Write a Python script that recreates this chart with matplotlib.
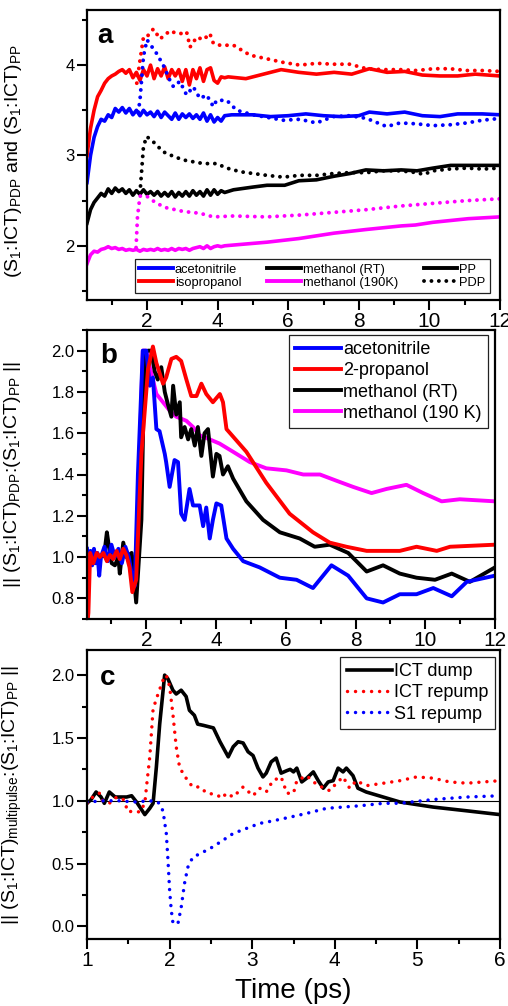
import matplotlib
matplotlib.use("Agg")
import matplotlib.pyplot as plt
from matplotlib.lines import Line2D
from matplotlib.ticker import MultipleLocator

plt.rcParams['font.family'] = ['Liberation Sans', 'DejaVu Sans']
plt.rcParams['mathtext.default'] = 'regular'

BLUE, RED, BLACK, MAG = '#0000ff', '#ff0000', '#000000', '#ff00ff'

# ---------------- panel a : PP (solid) ----------------
a_t_noisy = [0.3, 0.4, 0.5, 0.6, 0.7, 0.8, 0.9, 1.0, 1.1, 1.2, 1.3, 1.4, 1.5, 1.6, 1.7, 1.8, 1.9, 2.0,
             2.1, 2.2, 2.3, 2.4, 2.5, 2.6, 2.7, 2.8, 2.9, 3.0, 3.1, 3.2, 3.3, 3.4, 3.5, 3.6, 3.7, 3.8,
             3.9, 4.0, 4.1, 4.2]
a_acn_pp_t = a_t_noisy + [4.4, 5.0, 5.5, 6.0, 6.5, 7.0, 7.5, 8.0, 8.3, 8.8, 9.3, 9.8, 10.3, 10.8, 11.5, 12.0]
a_acn_pp = [2.70, 3.00, 3.20, 3.32, 3.40, 3.38, 3.45, 3.42, 3.52, 3.48, 3.53, 3.47, 3.52, 3.45, 3.50, 3.44,
            3.50, 3.45, 3.48, 3.43, 3.49, 3.42, 3.48, 3.44, 3.40, 3.47, 3.40, 3.46, 3.42, 3.46, 3.41, 3.45,
            3.40, 3.47, 3.38, 3.45, 3.37, 3.42, 3.38, 3.44,
            3.45, 3.45, 3.43, 3.44, 3.46, 3.44, 3.43, 3.44, 3.48, 3.46, 3.48, 3.44, 3.43, 3.46, 3.46, 3.45]
a_iso_pp_t = a_t_noisy + [4.3, 4.8, 5.3, 5.8, 6.3, 6.8, 7.3, 7.8, 8.3, 8.8, 9.3, 9.8, 10.3, 10.8, 11.3, 12.0]
a_iso_pp = [3.00, 3.30, 3.50, 3.65, 3.72, 3.80, 3.85, 3.88, 3.90, 3.93, 3.95, 3.91, 3.95, 3.86, 3.92, 3.83,
            3.95, 3.88, 4.00, 3.85, 3.96, 3.88, 3.98, 3.85, 3.95, 3.88, 3.95, 3.82, 3.95, 3.78, 3.95, 3.85,
            3.97, 3.82, 3.95, 3.97, 3.83, 3.80, 3.87, 3.86,
            3.87, 3.85, 3.90, 3.95, 3.92, 3.90, 3.92, 3.90, 3.96, 3.92, 3.93, 3.89, 3.88, 3.88, 3.90, 3.88]
a_mrt_pp_t = a_t_noisy + [4.45, 5.0, 5.4, 5.9, 6.3, 6.8, 7.3, 7.75, 8.2, 8.7, 9.2, 9.65, 10.1, 10.6, 11.1, 12.0]
a_mrt_pp = [2.25, 2.40, 2.48, 2.53, 2.58, 2.55, 2.63, 2.58, 2.64, 2.60, 2.63, 2.58, 2.62, 2.56, 2.61, 2.57,
            2.62, 2.57, 2.60, 2.56, 2.60, 2.55, 2.59, 2.55, 2.60, 2.54, 2.59, 2.55, 2.60, 2.55, 2.61, 2.56,
            2.60, 2.55, 2.62, 2.56, 2.62, 2.57, 2.61, 2.59,
            2.62, 2.65, 2.67, 2.67, 2.72, 2.73, 2.77, 2.80, 2.84, 2.83, 2.84, 2.83, 2.86, 2.89, 2.89, 2.89]
a_m190_pp_t = a_t_noisy + [4.5, 5.4, 6.3, 7.3, 8.2, 9.2, 9.6, 10.1, 11.1, 12.0]
a_m190_pp = [1.80, 1.90, 1.94, 1.93, 1.96, 1.97, 1.99, 1.97, 1.98, 1.96, 1.97, 1.95, 1.96, 1.95, 1.96, 1.94,
             1.96, 1.95, 1.96, 1.95, 1.97, 1.95, 1.96, 1.95, 1.97, 1.95, 1.97, 1.96, 1.97, 1.95, 1.97, 1.98,
             1.99, 1.97, 2.00, 1.97, 1.99, 2.00, 1.99, 2.00,
             2.01, 2.04, 2.08, 2.14, 2.18, 2.22, 2.23, 2.26, 2.30, 2.32]

# ---------------- panel a : PDP (dotted) ----------------
a_acn_pdp_t = [1.75, 1.80, 1.90, 2.00, 2.27, 2.46, 2.65, 2.75, 2.93, 3.12, 3.31, 3.50, 3.69, 3.88, 3.97, 4.26,
               4.54, 5.0, 5.86, 6.33, 6.8, 7.28, 7.75, 8.22, 8.79, 9.17, 9.64, 10.1, 10.6, 11.06, 11.5, 12.0]
a_acn_pdp = [3.48, 3.61, 4.10, 4.28, 4.13, 4.00, 3.83, 3.76, 3.82, 3.67, 3.76, 3.63, 3.67, 3.54, 3.61, 3.61,
             3.50, 3.45, 3.39, 3.40, 3.36, 3.43, 3.44, 3.41, 3.32, 3.36, 3.35, 3.33, 3.34, 3.36, 3.39, 3.41]
a_iso_pdp_t = [1.71, 1.80, 1.90, 1.99, 2.18, 2.37, 2.65, 2.84, 2.98, 3.12, 3.22, 3.41, 3.60, 3.78, 3.88, 4.07,
               4.45, 4.92, 5.39, 5.86, 6.33, 6.81, 7.28, 7.75, 8.22, 8.69, 9.17, 9.64, 10.11, 10.58, 11.06,
               11.53, 12.0]
a_iso_pdp = [3.80, 4.05, 4.31, 4.31, 4.40, 4.29, 4.38, 4.35, 4.35, 4.37, 4.20, 4.31, 4.28, 4.35, 4.24, 4.22,
             4.22, 4.11, 4.07, 4.03, 4.00, 4.02, 4.01, 4.01, 3.96, 3.95, 3.95, 3.94, 3.96, 3.96, 3.94, 3.94,
             3.93]
a_mrt_pdp_t = [1.80, 1.90, 1.99, 2.18, 2.46, 2.75, 3.03, 3.31, 3.60, 3.97, 4.26, 4.64, 5.01, 5.39, 5.86, 6.33,
               6.81, 7.28, 7.75, 8.22, 8.69, 9.17, 9.64, 9.83, 10.11, 10.58, 11.06, 11.53, 12.0]
a_mrt_pdp = [2.58, 3.10, 3.21, 3.15, 3.04, 2.99, 2.95, 2.93, 2.91, 2.91, 2.86, 2.82, 2.80, 2.78, 2.76, 2.78,
             2.78, 2.80, 2.81, 2.81, 2.83, 2.83, 2.81, 2.79, 2.83, 2.85, 2.86, 2.85, 2.86]
a_m190_pdp_t = [1.69, 1.73, 1.80, 1.99, 2.27, 2.56, 3.03, 3.50, 3.88, 4.45, 5.39, 6.33, 7.28, 8.22, 9.17,
                10.11, 11.06, 12.0]
a_m190_pdp = [1.98, 2.32, 2.55, 2.55, 2.47, 2.42, 2.38, 2.36, 2.32, 2.33, 2.32, 2.34, 2.37, 2.40, 2.44, 2.47,
              2.50, 2.52]

# ---------------- panel b ----------------
b_acn_t = [0.3, 0.35, 0.4, 0.45, 0.5, 0.55, 0.6, 0.65, 0.7, 0.8, 0.9, 1.0, 1.1, 1.2, 1.3, 1.4, 1.5, 1.6, 1.67,
           1.76, 1.9, 2.0, 2.1, 2.19, 2.29, 2.38, 2.53, 2.57, 2.67, 2.81, 2.91, 3.0, 3.1, 3.24, 3.34, 3.44,
           3.53, 3.63, 3.72, 3.82, 3.91, 4.01, 4.15, 4.3, 4.49, 4.78, 5.25, 5.83, 6.31, 6.78, 7.31, 7.79,
           8.32, 8.79, 9.27, 9.75, 10.23, 10.76, 11.19, 12.0]
b_acn = [1.04, 0.95, 1.03, 0.96, 1.04, 0.97, 1.02, 0.91, 1.00, 1.05, 0.98, 1.06, 1.00, 1.04, 0.97, 1.05,
         1.00, 0.90, 0.86, 1.40, 2.00, 2.00, 1.83, 1.87, 1.62, 1.61, 1.50, 1.46, 1.34, 1.47, 1.46, 1.21,
         1.18, 1.33, 1.25, 1.25, 1.25, 1.15, 1.24, 1.09, 1.18, 1.26, 1.25, 1.09, 1.04, 0.98, 0.95, 0.90,
         0.89, 0.85, 0.96, 0.91, 0.80, 0.78, 0.82, 0.82, 0.85, 0.81, 0.88, 0.91]
b_prop_t = [0.3, 0.34, 0.39, 0.48, 0.58, 0.67, 0.77, 0.87, 0.96, 1.05, 1.15, 1.24, 1.34, 1.43, 1.52, 1.60,
            1.71, 1.86, 2.05, 2.19, 2.29, 2.48, 2.57, 2.72, 2.86, 3.0, 3.15, 3.29, 3.44, 3.58, 3.72, 3.91,
            4.11, 4.2, 4.3, 4.87, 5.44, 6.11, 6.78, 7.26, 7.74, 8.32, 9.27, 9.75, 10.33, 10.71, 12.0]
b_prop = [0.66, 0.73, 1.02, 0.97, 1.02, 1.00, 1.02, 0.98, 1.01, 0.99, 1.03, 0.99, 1.04, 1.01, 0.95, 0.83,
          0.89, 1.50, 1.91, 2.02, 1.94, 1.84, 1.87, 1.96, 1.97, 1.95, 1.86, 1.78, 1.78, 1.84, 1.79, 1.75,
          1.79, 1.75, 1.62, 1.51, 1.36, 1.21, 1.12, 1.07, 1.05, 1.03, 1.03, 1.05, 1.03, 1.05, 1.06]
b_mrt_t = [0.3, 0.48, 0.67, 0.8, 0.87, 0.93, 1.01, 1.1, 1.2, 1.24, 1.34, 1.43, 1.58, 1.71, 1.86, 1.95, 2.05,
           2.14, 2.24, 2.33, 2.43, 2.53, 2.62, 2.72, 2.77, 2.86, 2.96, 3.0, 3.1, 3.2, 3.29, 3.39, 3.48, 3.58,
           3.67, 3.77, 3.91, 4.01, 4.1, 4.2, 4.34, 4.49, 4.87, 5.35, 5.83, 6.4, 6.83, 7.26, 7.79, 8.32, 8.79,
           9.27, 9.75, 10.28, 10.76, 11.28, 12.0]
b_mrt = [1.0, 0.99, 1.0, 1.02, 1.12, 1.05, 0.97, 0.96, 1.0, 0.92, 1.07, 1.0, 1.02, 0.78, 1.18, 1.99, 2.0,
         2.0, 1.90, 1.86, 1.92, 1.80, 1.74, 1.68, 1.83, 1.69, 1.75, 1.58, 1.63, 1.57, 1.62, 1.54, 1.63, 1.49,
         1.60, 1.62, 1.39, 1.50, 1.49, 1.40, 1.44, 1.38, 1.27, 1.18, 1.12, 1.09, 1.05, 1.06, 1.02, 0.93, 0.96,
         0.92, 0.90, 0.89, 0.92, 0.88, 0.95]
b_m190_t = [1.65, 1.71, 1.81, 1.9, 2.0, 2.1, 2.19, 2.29, 2.48, 2.67, 2.86, 3.15, 3.34, 3.53, 3.82, 4.1, 4.49,
            4.97, 5.44, 6.02, 6.5, 6.98, 7.45, 7.93, 8.46, 8.89, 9.46, 9.94, 10.47, 10.99, 12.0]
b_m190 = [1.0, 0.99, 1.50, 2.0, 2.0, 1.92, 1.86, 1.79, 1.75, 1.71, 1.68, 1.66, 1.63, 1.59, 1.57, 1.55, 1.51,
          1.46, 1.43, 1.42, 1.40, 1.40, 1.37, 1.34, 1.31, 1.33, 1.35, 1.31, 1.27, 1.28, 1.27]

# ---------------- panel c ----------------
c_dump_t = [1.0, 1.05, 1.11, 1.17, 1.21, 1.27, 1.34, 1.40, 1.48, 1.54, 1.60, 1.70, 1.76, 1.80, 1.84, 1.88,
            1.94, 1.98, 2.04, 2.08, 2.14, 2.20, 2.24, 2.30, 2.34, 2.41, 2.47, 2.53, 2.61, 2.71, 2.77, 2.83,
            2.89, 2.95, 3.01, 3.07, 3.13, 3.17, 3.23, 3.29, 3.35, 3.42, 3.46, 3.50, 3.54, 3.60, 3.66, 3.74,
            3.80, 3.86, 3.92, 3.98, 4.04, 4.10, 4.14, 4.22, 4.28, 4.38, 4.79, 5.19, 5.60, 6.0]
c_dump = [0.98, 1.01, 1.07, 1.03, 0.98, 1.07, 1.03, 1.03, 1.03, 1.04, 0.99, 0.89, 0.94, 0.98, 1.27, 1.61,
          2.00, 1.97, 1.88, 1.85, 1.88, 1.83, 1.72, 1.68, 1.61, 1.60, 1.59, 1.58, 1.47, 1.35, 1.43, 1.47,
          1.46, 1.39, 1.36, 1.26, 1.19, 1.22, 1.31, 1.34, 1.22, 1.24, 1.25, 1.23, 1.26, 1.15, 1.18, 1.23,
          1.16, 1.10, 1.15, 1.16, 1.26, 1.23, 1.26, 1.20, 1.10, 1.07, 0.99, 0.95, 0.92, 0.89]
c_ict_t = [1.0, 1.07, 1.15, 1.19, 1.27, 1.36, 1.44, 1.50, 1.56, 1.64, 1.70, 1.72, 1.76, 1.80, 1.86, 1.92,
           1.96, 2.0, 2.04, 2.08, 2.12, 2.16, 2.22, 2.28, 2.37, 2.45, 2.57, 2.63, 2.69, 2.77, 2.89, 3.01,
           3.09, 3.17, 3.25, 3.35, 3.42, 3.50, 3.54, 3.66, 3.74, 3.84, 3.94, 4.02, 4.10, 4.18, 4.26, 4.38,
           4.59, 4.79, 4.99, 5.19, 5.39, 5.60, 5.80, 6.0]
c_ict = [0.98, 1.03, 1.06, 1.0, 0.98, 1.03, 1.01, 0.91, 0.92, 0.91, 0.98, 1.11, 1.35, 1.73, 1.85, 1.96,
         2.0, 1.91, 1.69, 1.43, 1.27, 1.22, 1.16, 1.11, 1.11, 1.06, 1.05, 1.02, 1.06, 1.03, 1.11, 1.04,
         1.10, 1.07, 1.16, 1.19, 1.06, 1.06, 1.16, 1.20, 1.15, 1.11, 1.08, 1.14, 1.19, 1.10, 1.16, 1.12,
         1.14, 1.16, 1.19, 1.18, 1.15, 1.14, 1.15, 1.16]
c_s1_t = [1.0, 1.2, 1.4, 1.56, 1.76, 1.86, 1.92, 1.96, 1.98, 2.0, 2.02, 2.04, 2.1, 2.14, 2.18, 2.22, 2.28,
          2.37, 2.49, 2.61, 2.77, 2.93, 3.09, 3.25, 3.46, 3.66, 3.9, 4.1, 4.3, 4.59, 4.79, 5.19, 5.6, 6.0]
c_s1 = [0.99, 1.0, 1.0, 0.99, 1.0, 0.99, 0.92, 0.74, 0.53, 0.29, 0.13, 0.03, 0.02, 0.15, 0.34, 0.47, 0.55,
        0.58, 0.62, 0.67, 0.74, 0.78, 0.82, 0.84, 0.87, 0.90, 0.94, 0.95, 0.96, 0.98, 0.98, 1.01, 1.03, 1.04]

a_names = ['acetonitrile', 'isopropanol', 'methanol (RT)', 'methanol (190K)']
b_names = ['acetonitrile', '2-propanol', 'methanol (RT)', 'methanol (190 K)']
c_names = ['ICT dump', 'ICT repump', 'S1 repump']

W, H = 508, 1006
fig = plt.figure(figsize=(W / 100, H / 100), dpi=100)


def box(l, t, r, b):
    return [l / W, 1 - b / H, (r - l) / W, (b - t) / H]


axa = fig.add_axes(box(87, 10, 500, 300))
axb = fig.add_axes(box(87, 330, 495, 619))
axc = fig.add_axes(box(87, 650, 500, 939))

DOT_A = (0, (0.01, 1.9))
DOT_C = (0, (0.01, 2.3))


def style(ax, xfs, yfs):
    for s in ax.spines.values():
        s.set_linewidth(1.6)
    ax.tick_params(which='both', direction='out', width=1.5, top=False, right=False)
    ax.tick_params(which='major', length=7)
    ax.tick_params(which='minor', length=3.8)
    ax.tick_params(axis='x', labelsize=xfs, pad=1.5)
    ax.tick_params(axis='y', labelsize=yfs, pad=2)


def frame(lg):
    lg.get_frame().set_edgecolor('#222222')
    lg.get_frame().set_linewidth(0.9)


# ---- panel a
cols = [BLUE, RED, BLACK, MAG]
pp = [(a_acn_pp_t, a_acn_pp), (a_iso_pp_t, a_iso_pp), (a_mrt_pp_t, a_mrt_pp), (a_m190_pp_t, a_m190_pp)]
pdp = [(a_acn_pdp_t, a_acn_pdp), (a_iso_pdp_t, a_iso_pdp), (a_mrt_pdp_t, a_mrt_pdp),
       (a_m190_pdp_t, a_m190_pdp)]
for (t, y), c in zip(pp, cols):
    axa.plot(t, y, color=c, lw=2.6, solid_joinstyle='round')
for (t, y), c in zip(pdp, cols):
    axa.plot(t, y, color=c, lw=2.8, linestyle=DOT_A, dash_capstyle='round')
axa.set_xlim(0.3, 12)
axa.set_ylim(1.40, 4.61)
axa.xaxis.set_major_locator(MultipleLocator(2))
axa.xaxis.set_minor_locator(MultipleLocator(1))
axa.yaxis.set_major_locator(MultipleLocator(1))
axa.yaxis.set_minor_locator(MultipleLocator(0.5))
style(axa, 15, 12)
axa.set_ylabel('(S$_1$:ICT)$_{PDP}$ and (S$_1$:ICT)$_{PP}$', fontsize=14)
axa.yaxis.set_label_coords(-0.152, 0.48)
axa.text(0.024, 0.886, 'a', transform=axa.transAxes, fontsize=20, fontweight='bold', va='baseline')
hand = [Line2D([], [], color=c, lw=2.8) for c in cols]
hand += [Line2D([], [], color=BLACK, lw=2.8),
         Line2D([], [], color=BLACK, lw=2.8, linestyle=DOT_A, dash_capstyle='round')]
labs = [a_names[0], a_names[1], a_names[2], a_names[3], 'PP', 'PDP']
lga = axa.legend(hand, labs, ncol=3, loc='lower right', bbox_to_anchor=(0.976, 0.024), borderaxespad=0,
                 fontsize=9.3, handlelength=2.6, handletextpad=0.15, columnspacing=2.0, labelspacing=0.05,
                 borderpad=0.35, fancybox=False, framealpha=1)
frame(lga)

# ---- panel b
for t, y, c in [(b_m190_t, b_m190, MAG), (b_mrt_t, b_mrt, BLACK), (b_acn_t, b_acn, BLUE),
                (b_prop_t, b_prop, RED)]:
    axb.plot(t, y, color=c, lw=2.8, solid_joinstyle='round')
axb.axhline(1.0, color='black', lw=0.8, zorder=0.5)
axb.set_xlim(0.3, 12)
axb.set_ylim(0.70, 2.10)
axb.xaxis.set_major_locator(MultipleLocator(2))
axb.xaxis.set_minor_locator(MultipleLocator(1))
axb.yaxis.set_major_locator(MultipleLocator(0.2))
axb.yaxis.set_minor_locator(MultipleLocator(0.1))
axb.yaxis.set_major_formatter(matplotlib.ticker.FormatStrFormatter('%.1f'))
style(axb, 15, 12)
axb.set_ylabel('|| (S$_1$:ICT)$_{PDP}$:(S$_1$:ICT)$_{PP}$ ||', fontsize=14)
axb.yaxis.set_label_coords(-0.157, 0.5)
axb.text(0.032, 0.886, 'b', transform=axb.transAxes, fontsize=20, fontweight='bold', va='baseline')
hb = [Line2D([], [], color=c, lw=2.8) for c in [BLUE, RED, BLACK, MAG]]
lgb = axb.legend(hb, b_names, loc='upper right', bbox_to_anchor=(0.983, 0.983), borderaxespad=0,
                 fontsize=13, handlelength=2.5, handletextpad=0.15, labelspacing=0.23, borderpad=0.35,
                 fancybox=False, framealpha=1)
frame(lgb)

# ---- panel c
axc.plot(c_dump_t, c_dump, color=BLACK, lw=2.6, solid_joinstyle='round', label=c_names[0])
axc.plot(c_ict_t, c_ict, color=RED, lw=2.5, linestyle=DOT_C, dash_capstyle='round', label=c_names[1])
axc.plot(c_s1_t, c_s1, color=BLUE, lw=2.5, linestyle=DOT_C, dash_capstyle='round', label=c_names[2])
axc.axhline(1.0, color='black', lw=0.8, zorder=0.5)
axc.set_xlim(1, 6)
axc.set_ylim(-0.10, 2.20)
axc.xaxis.set_major_locator(MultipleLocator(1))
axc.xaxis.set_minor_locator(MultipleLocator(0.5))
axc.yaxis.set_major_locator(MultipleLocator(0.5))
axc.yaxis.set_minor_locator(MultipleLocator(0.25))
axc.yaxis.set_major_formatter(matplotlib.ticker.FormatStrFormatter('%.1f'))
style(axc, 15, 12)
axc.set_ylabel('|| (S$_1$:ICT)$_{multipulse}$:(S$_1$:ICT)$_{PP}$ ||', fontsize=14)
axc.yaxis.set_label_coords(-0.152, 0.5)
axc.set_xlabel('Time (ps)', fontsize=20, labelpad=6)
axc.text(0.032, 0.879, 'c', transform=axc.transAxes, fontsize=20, fontweight='bold', va='baseline')
lgc = axc.legend(loc='upper right', bbox_to_anchor=(0.988, 0.976), borderaxespad=0, fontsize=13,
                 handlelength=2.5, handletextpad=0.15, labelspacing=0.23, borderpad=0.35,
                 fancybox=False, framealpha=1)
frame(lgc)

fig.savefig('out.png', dpi=100)
